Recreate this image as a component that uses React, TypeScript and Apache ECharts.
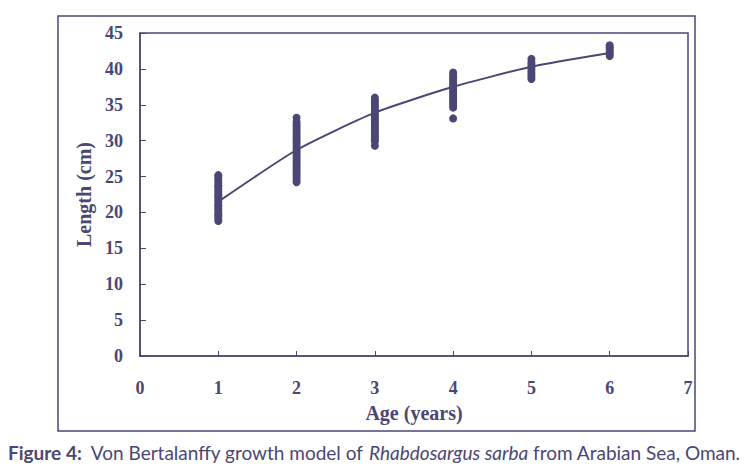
import React, { useEffect, useRef } from "react";
import * as echarts from "echarts";

const xTicks = [0, 1, 2, 3, 4, 5, 6, 7];
const yTicks = [0, 5, 10, 15, 20, 25, 30, 35, 40, 45];

const age1 = [18.8, 19.1, 19.4, 19.6, 19.9, 20.2, 20.5, 20.8, 21.0, 21.3, 21.6, 21.9, 22.2, 22.4, 22.7, 23.0, 23.3, 23.6, 23.8, 24.1, 24.4, 24.7, 25.0, 25.2];
const age2 = [24.2, 24.5, 24.8, 25.1, 25.4, 25.7, 26.0, 26.3, 26.6, 26.9, 27.2, 27.5, 27.8, 28.1, 28.4, 28.7, 29.0, 29.3, 29.6, 29.9, 30.2, 30.5, 30.8, 31.1, 31.4, 31.7, 32.0, 32.3, 32.6, 33.2];
const age3 = [29.3, 29.9, 30.2, 30.5, 30.8, 31.1, 31.4, 31.7, 32.0, 32.3, 32.6, 32.9, 33.2, 33.5, 33.8, 34.1, 34.4, 34.7, 35.0, 35.3, 35.6, 36.0];
const age4 = [33.1, 34.6, 34.9, 35.2, 35.5, 35.8, 36.1, 36.4, 36.7, 37.0, 37.3, 37.6, 37.9, 38.2, 38.5, 38.8, 39.1, 39.5];
const age5 = [38.6, 38.9, 39.2, 39.5, 39.8, 40.1, 40.4, 40.7, 41.0, 41.4];
const age6 = [41.8, 42.1, 42.4, 42.7, 43.0, 43.3];

const fitAges = [1, 2, 3, 4, 5, 6];
const fitLengths = [21.5, 28.7, 33.9, 37.5, 40.3, 42.2];

const observed: [number, number[]][] = [
  [1, age1],
  [2, age2],
  [3, age3],
  [4, age4],
  [5, age5],
  [6, age6],
];

const INK = "#4b4775";

export default function App() {
  const ref = useRef<HTMLDivElement>(null);
  useEffect(() => {
    if (!ref.current) return;
    const chart = echarts.init(ref.current, undefined, { renderer: "svg" });
    const scatterData: number[][] = [];
    observed.forEach(([a, vals]) => vals.forEach((v) => scatterData.push([a, v])));
    const serif = "'Liberation Serif', 'Times New Roman', serif";
    const sans = "Lato, 'Open Sans', sans-serif";
    chart.setOption({
      animation: false,
      backgroundColor: "#ffffff",
      grid: {
        left: 140,
        top: 33,
        right: 61,
        bottom: 119,
        show: true,
        borderColor: INK,
        borderWidth: 1.5,
        containLabel: false,
      },
      xAxis: {
        type: "value",
        min: xTicks[0],
        max: xTicks[xTicks.length - 1],
        interval: 1,
        name: "Age (years)",
        nameLocation: "middle",
        nameGap: 47,
        nameTextStyle: { color: INK, fontFamily: serif, fontWeight: "bold", fontSize: 20 },
        axisLine: { show: true, lineStyle: { color: INK, width: 1.5 } },
        axisTick: { show: true, inside: true, length: 5, lineStyle: { color: INK, width: 1 } },
        axisLabel: { color: INK, fontFamily: serif, fontWeight: "bold", fontSize: 18, margin: 23 },
        splitLine: { show: false },
      },
      yAxis: {
        type: "value",
        min: yTicks[0],
        max: yTicks[yTicks.length - 1],
        interval: 5,
        name: "Length (cm)",
        nameLocation: "middle",
        nameGap: 46,
        nameRotate: 90,
        nameTextStyle: { color: INK, fontFamily: serif, fontWeight: "bold", fontSize: 20 },
        axisLine: { show: true, lineStyle: { color: INK, width: 1.5 } },
        axisTick: { show: true, inside: true, length: 6, lineStyle: { color: INK, width: 1 } },
        axisLabel: { color: INK, fontFamily: serif, fontWeight: "bold", fontSize: 18, margin: 17 },
        splitLine: { show: false },
      },
      graphic: [
        {
          type: "rect",
          shape: { x: 58, y: 16, width: 637, height: 415 },
          style: { fill: "none", stroke: INK, lineWidth: 1.5 },
          silent: true,
        },
        {
          type: "text",
          x: 8,
          y: 452,
          style: {
            text: "{b|Figure 4:}  Von Bertalanffy growth model of {i|Rhabdosargus sarba} from Arabian Sea, Oman.",
            fill: INK,
            fontFamily: sans,
            fontSize: 19,
            verticalAlign: "middle",
            rich: {
              b: { fontWeight: "bold", fontFamily: sans, fontSize: 19, fill: INK },
              i: { fontStyle: "italic", fontFamily: sans, fontSize: 19, fill: INK },
            },
          },
        },
      ],
      series: [
        {
          type: "scatter",
          data: scatterData,
          symbol: "circle",
          symbolSize: 8,
          itemStyle: { color: INK, opacity: 1 },
          z: 2,
        },
        {
          type: "line",
          data: fitAges.map((a, i) => [a, fitLengths[i]]),
          smooth: 0.2,
          showSymbol: false,
          symbol: "none",
          lineStyle: { color: INK, width: 2 },
          z: 3,
        },
      ],
    });
    return () => chart.dispose();
  }, []);
  return (
    <div
      ref={ref}
      style={{ position: "fixed", left: 0, top: 0, width: 749, height: 475 }}
    />
  );
}
